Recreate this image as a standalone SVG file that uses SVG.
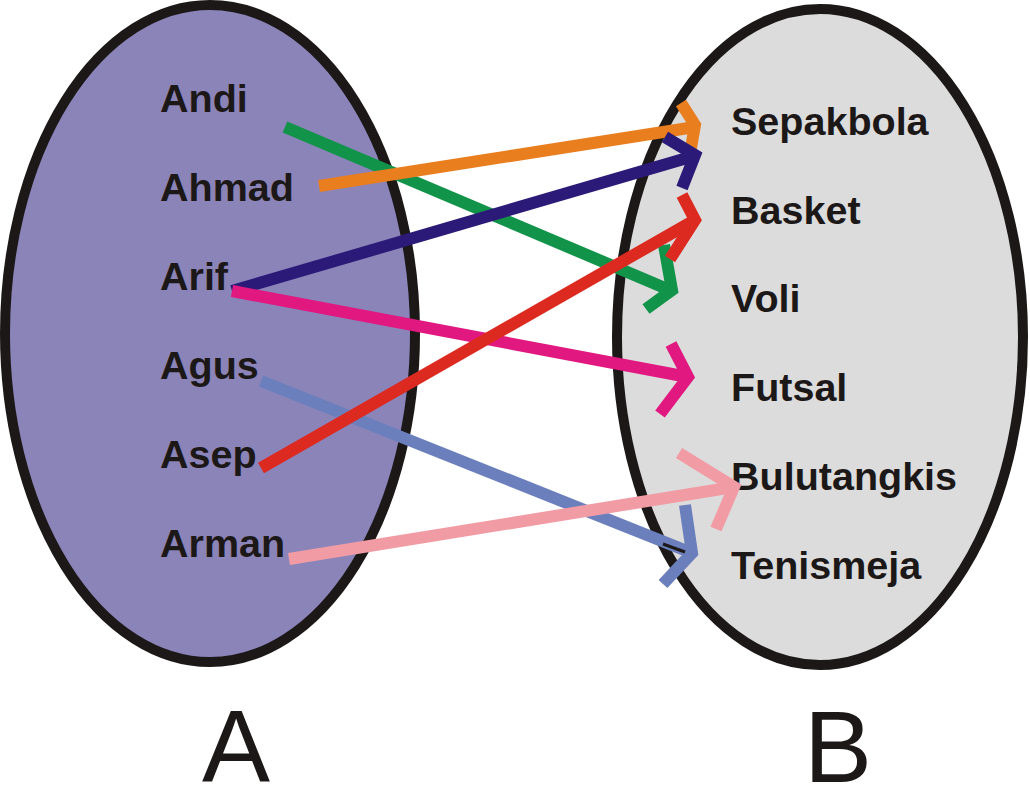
<svg xmlns="http://www.w3.org/2000/svg" width="1030" height="789" viewBox="0 0 1030 789">
<style>
.set{stroke:#1c1818;stroke-width:10}
.lbl{font-family:"Liberation Sans",Arial,sans-serif;font-weight:bold;font-size:39.5px;fill:#1c1818}
.big{font-family:"Liberation Sans",Arial,sans-serif;font-size:102px;fill:#1c1818;text-anchor:middle}
.c{fill:none;stroke-width:12;stroke-linecap:butt;stroke-linejoin:miter;stroke-miterlimit:10}
</style>
<rect width="1030" height="789" fill="#ffffff"/>
<g id="setA">
<ellipse class="set" cx="210" cy="333.5" rx="205" ry="328.5" fill="#8b84b9"/>
</g>
<g id="setB">
<ellipse class="set" cx="820" cy="337" rx="203" ry="328" fill="#dcdcdc"/>
</g>
<g id="labelsA">
<g id="andi"><text class="lbl" x="160" y="112">Andi</text></g>
<g id="ahmad"><text class="lbl" x="160" y="201">Ahmad</text></g>
<g id="arif"><text class="lbl" x="160" y="290">Arif</text></g>
<g id="agus"><text class="lbl" x="160" y="379">Agus</text></g>
<g id="asep"><text class="lbl" x="160" y="468">Asep</text></g>
<g id="arman"><text class="lbl" x="160" y="557">Arman</text></g>
</g>
<g id="labelsB">
<g id="sepakbola"><text class="lbl" x="731" y="135">Sepakbola</text></g>
<g id="basket"><text class="lbl" x="731" y="224">Basket</text></g>
<g id="voli"><text class="lbl" x="731" y="312">Voli</text></g>
<g id="futsal"><text class="lbl" x="731" y="401">Futsal</text></g>
<g id="bulutangkis"><text class="lbl" x="731" y="490">Bulutangkis</text></g>
<g id="tenismeja"><text class="lbl" x="731" y="579">Tenismeja</text></g>
</g>
<g id="connectors">
<g stroke="#12934a">
<line class="c" x1="285" y1="127" x2="672" y2="291"/>
<polyline class="c" points="664,245 672,290 646,309"/>
</g>
<g stroke="#e97e1f">
<line class="c" x1="319" y1="186" x2="695" y2="127"/>
<polyline class="c" points="681,103 695,125 691,148"/>
</g>
<g stroke="#2b1a78">
<line class="c" x1="232" y1="291" x2="694" y2="156"/>
<polyline class="c" points="665,137 695,155 682,188"/>
</g>
<g stroke="#6b7fbd">
<line class="c" x1="261" y1="381" x2="692" y2="553"/>
<polyline class="c" points="685,505 692,553 663,584"/>
</g>
<line x1="663" y1="544" x2="685" y2="552" stroke="#1c1818" stroke-width="3"/>
<g stroke="#e0187f">
<line class="c" x1="232" y1="291" x2="688" y2="377"/>
<polyline class="c" points="671,344 688,377 660,414"/>
</g>
<g stroke="#dc2a20">
<line class="c" x1="261" y1="468" x2="695" y2="220"/>
<polyline class="c" points="682,195 695,220 670,259"/>
</g>
<g stroke="#f19ca5">
<line class="c" x1="289" y1="559" x2="734" y2="487"/>
<polyline class="c" points="679,453 734,487 716,529"/>
</g>
</g>
<g id="titleA"><text class="big" x="236" y="782">A</text></g>
<g id="titleB"><text class="big" x="838" y="782">B</text></g>
</svg>
